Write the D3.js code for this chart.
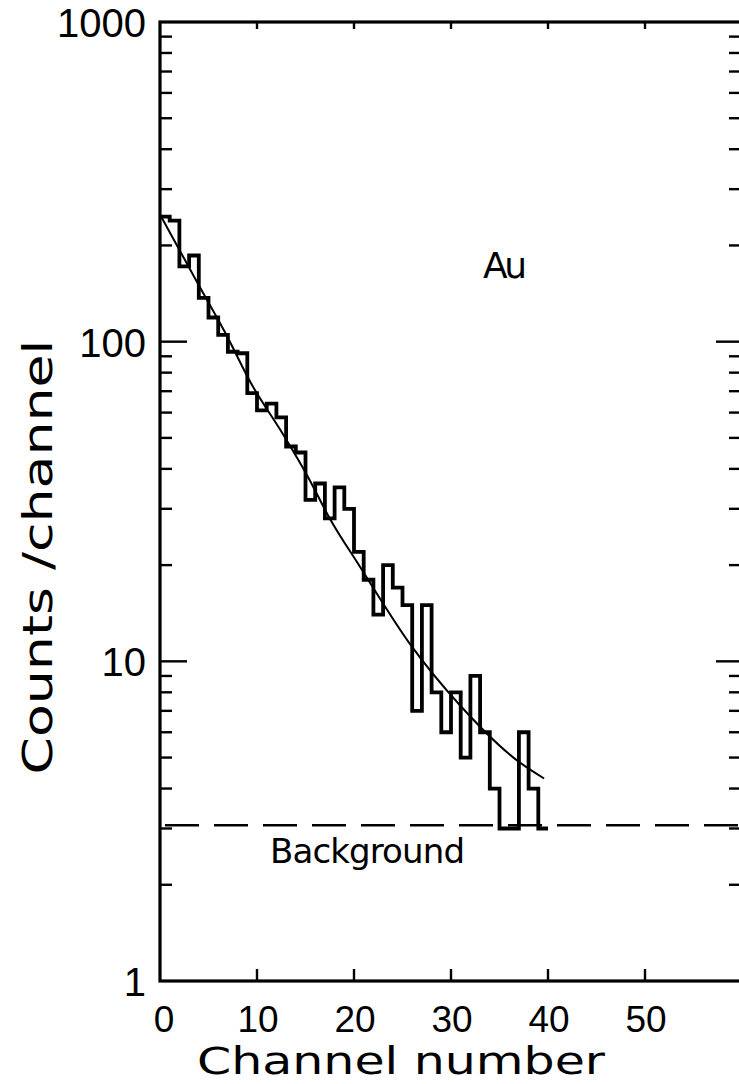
<!DOCTYPE html>
<html>
<head>
<meta charset="utf-8">
<script src="https://cdn.jsdelivr.net/npm/d3@7"></script>
<style>
  html, body { margin: 0; padding: 0; background: #fff; }
  svg { display: block; }
  .word { font-family: "DejaVu Sans", sans-serif; fill: #000; }
  .num { font-family: "Liberation Sans", Arial, sans-serif; fill: #000; }
</style>
</head>
<body>
<script>
// Counts per channel (channels 0..39)
const channels = d3.range(0, 40);
const counts = [246, 239, 172, 186, 137, 119, 105, 93, 92, 69,
                61, 64, 58, 47, 45, 32, 36, 28, 35, 30,
                22, 18, 14, 20, 17, 15, 7, 15, 8, 6,
                8, 5, 9, 6, 4, 3, 3, 6, 4, 3];

// Fitted decay curve, sampled points
const fitChannel = [0, 3.9, 6.7, 9.5, 12.4, 15.2, 17.5, 20.6, 25.8, 30.9, 36.8, 39.6];
const fitCounts  = [250, 152, 107, 73, 53, 38, 28, 19.8, 11.3, 7.3, 4.9, 4.3];

// Background level
const background = 3.07;

// Axis ticks
const xTicks = [0, 10, 20, 30, 40, 50];
const xMajorMarks = [10, 20, 30, 40, 50];
const yTicks = [1, 10, 100, 1000];
const yLabels = ["1", "10", "100", "1000"];

const W = 739, H = 1084;
const svg = d3.select("body").append("svg")
  .attr("width", W).attr("height", H)
  .attr("viewBox", `0 0 ${W} ${H}`);

svg.append("rect").attr("width", W).attr("height", H).attr("fill", "#fff");

const x = d3.scaleLinear().domain([0, 60]).range([160, 742]);
const y = d3.scaleLog().domain([1, 1000]).range([981, 22]);

const ink = "#000";

// Frame
svg.append("rect")
  .attr("x", x(0)).attr("y", y(1000))
  .attr("width", x(60) - x(0)).attr("height", y(1) - y(1000))
  .attr("fill", "none").attr("stroke", ink).attr("stroke-width", 3.2);

// Minor / major log ticks on left and right axes
const minorVals = [];
[1, 10, 100].forEach(d => { for (let m = 2; m <= 9; m++) minorVals.push(d * m); });
const majorVals = [10, 100];

const tickG = svg.append("g").attr("stroke", ink);
tickG.selectAll(".lminor").data(minorVals).join("line")
  .attr("x1", x(0)).attr("x2", x(0) + 12)
  .attr("y1", d => y(d)).attr("y2", d => y(d))
  .attr("stroke-width", 2.4);
tickG.selectAll(".lmajor").data(majorVals).join("line")
  .attr("x1", x(0)).attr("x2", x(0) + 27)
  .attr("y1", d => y(d)).attr("y2", d => y(d))
  .attr("stroke-width", 2.4);
tickG.selectAll(".rminor").data(minorVals).join("line")
  .attr("x1", x(60)).attr("x2", x(60) - 13)
  .attr("y1", d => y(d)).attr("y2", d => y(d))
  .attr("stroke-width", 2.4);
tickG.selectAll(".rmajor").data(majorVals).join("line")
  .attr("x1", x(60)).attr("x2", x(60) - 26)
  .attr("y1", d => y(d)).attr("y2", d => y(d))
  .attr("stroke-width", 2.4);

// Ticks on bottom and top axes
tickG.selectAll(".bt").data(xMajorMarks).join("line")
  .attr("x1", d => x(d)).attr("x2", d => x(d))
  .attr("y1", y(1)).attr("y2", y(1) - 12)
  .attr("stroke-width", 2.4);
tickG.selectAll(".tt").data(xMajorMarks).join("line")
  .attr("x1", d => x(d)).attr("x2", d => x(d))
  .attr("y1", y(1000)).attr("y2", y(1000) + 7)
  .attr("stroke-width", 2.4);

// Background level (dashed)
svg.append("line")
  .attr("x1", x(0) + 5).attr("x2", x(60))
  .attr("y1", y(background)).attr("y2", y(background))
  .attr("stroke", ink).attr("stroke-width", 2.4)
  .attr("stroke-dasharray", "34 15");

// Fitted curve
const fitLine = d3.line()
  .x((d, i) => x(fitChannel[i]))
  .y(d => y(d))
  .curve(d3.curveMonotoneX);
svg.append("path")
  .attr("d", fitLine(fitCounts))
  .attr("fill", "none").attr("stroke", ink).attr("stroke-width", 2);

// Histogram (step outline)
const stepPts = channels.map((c, i) => [c, counts[i]]);
stepPts.push([channels.length, counts[counts.length - 1]]);
const stepLine = d3.line()
  .x(d => x(d[0])).y(d => y(d[1]))
  .curve(d3.curveStepAfter);
svg.append("path")
  .attr("d", stepLine(stepPts))
  .attr("fill", "none").attr("stroke", ink)
  .attr("stroke-width", 3.8).attr("stroke-linejoin", "miter");

// Y tick labels
svg.selectAll(".ylab").data(yTicks).join("text")
  .attr("class", "num")
  .attr("x", 146)
  .attr("y", d => y(d) + 15)
  .attr("text-anchor", "end")
  .attr("font-size", 40)
  .text((d, i) => yLabels[i]);

// X tick labels
svg.selectAll(".xlab").data(xTicks).join("text")
  .attr("class", "num")
  .attr("x", d => x(d) + (d === 0 ? 4 : 1))
  .attr("y", 1032)
  .attr("text-anchor", "middle")
  .attr("font-size", 37)
  .text(d => d);

// Axis titles
svg.append("text").attr("class", "word")
  .attr("x", 401).attr("y", 1074)
  .attr("text-anchor", "middle")
  .attr("font-size", 37)
  .attr("textLength", 408).attr("lengthAdjust", "spacingAndGlyphs")
  .text("Channel number");

svg.append("text").attr("class", "word")
  .attr("transform", "translate(52,557) rotate(-90)")
  .attr("text-anchor", "middle")
  .attr("font-size", 40)
  .attr("textLength", 435).attr("lengthAdjust", "spacingAndGlyphs")
  .text("Counts /channel");

// Annotations
svg.append("text").attr("class", "word")
  .attr("x", 483).attr("y", 278)
  .attr("font-size", 36)
  .attr("textLength", 44).attr("lengthAdjust", "spacing")
  .text("Au");

svg.append("text").attr("class", "word")
  .attr("x", 270).attr("y", 863)
  .attr("font-size", 34)
  .attr("textLength", 195).attr("lengthAdjust", "spacing")
  .text("Background");
</script>
</body>
</html>
